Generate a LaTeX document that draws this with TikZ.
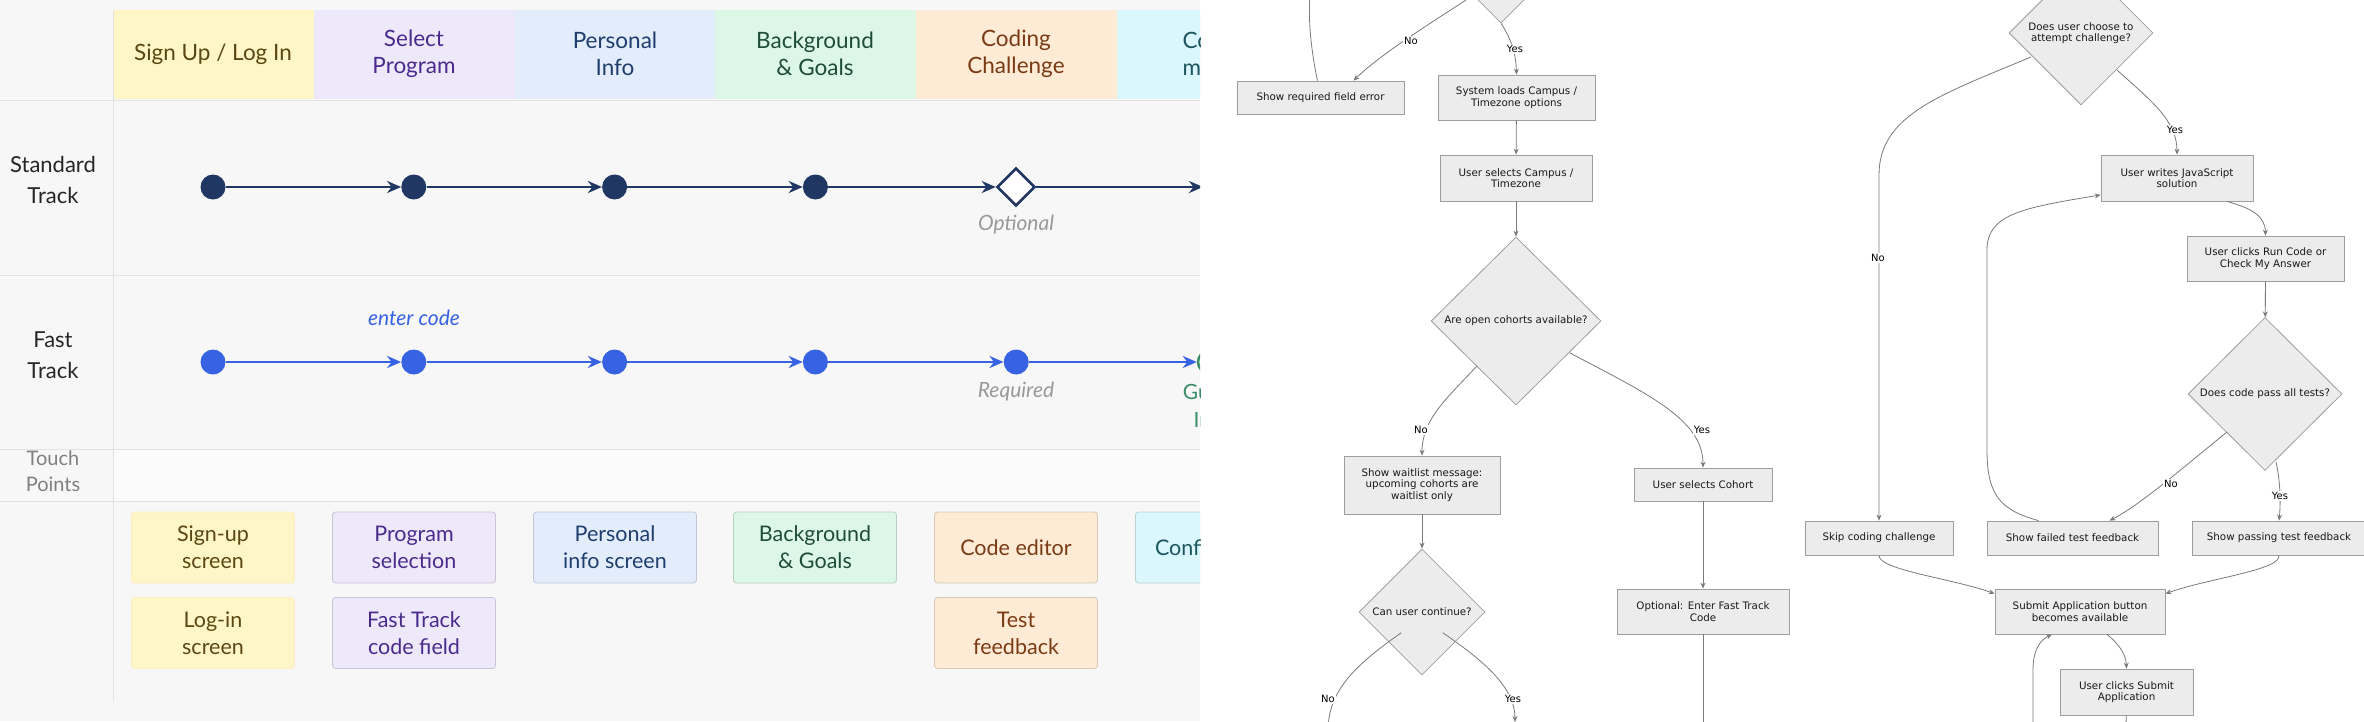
\documentclass[tikz,border=0pt]{standalone}
\usepackage{fontspec}
\setmainfont{Lato}
\newfontfamily\flowfont{DejaVu Sans}
\usetikzlibrary{arrows.meta, shapes.geometric}

\definecolor{panelbg}{HTML}{F7F7F7}
\definecolor{gridgray}{HTML}{E2E2E2}
\definecolor{navy}{HTML}{1F3762}
\definecolor{fastblue}{HTML}{3762E2}
\definecolor{guargreen}{HTML}{3A8F66}
\definecolor{hdyellow}{HTML}{FEF6C6}
\definecolor{hdlav}{HTML}{EEE8FB}
\definecolor{hdblue}{HTML}{E2ECFB}
\definecolor{hdgreen}{HTML}{DCF7E6}
\definecolor{hdorange}{HTML}{FDEBD6}
\definecolor{hdcyan}{HTML}{D9F7FC}
\definecolor{txyellow}{HTML}{5A4712}
\definecolor{txlav}{HTML}{4A2B8C}
\definecolor{txblue}{HTML}{1F3E6E}
\definecolor{txgreen}{HTML}{1F4D37}
\definecolor{txorange}{HTML}{7A3A14}
\definecolor{txcyan}{HTML}{1D5560}
\definecolor{flowfill}{HTML}{ECECEC}
\definecolor{flowline}{HTML}{9E9E9E}
\definecolor{edgegray}{HTML}{7A7A7A}

\tikzset{
    hdtext/.style={align=center, font=\fontsize{22.5}{27}\selectfont},
    rowlabel/.style={align=center, font=\fontsize{22}{31}\selectfont, text=black!85},
    sdot/.style={circle, fill=navy, inner sep=0pt, minimum size=25pt},
    fdot/.style={circle, fill=fastblue, inner sep=0pt, minimum size=25pt},
    trk/.style={line width=2.6pt, -{Stealth[length=14pt,width=12pt]}},
    note/.style={font=\fontsize{21}{28}\selectfont\itshape, align=center},
    touch/.style={rectangle, rounded corners=3pt, line width=0.8pt, minimum width=163pt,
        minimum height=71pt, align=center, font=\fontsize{21.5}{27}\selectfont},
    flowbox/.style={rectangle, fill=flowfill, draw=flowline, line width=0.8pt, align=center,
        inner sep=1pt, text=black!90, font=\flowfont\fontsize{10.3}{11.5}\selectfont},
    ask/.style={diamond, fill=flowfill, draw=flowline, line width=0.8pt, align=center,
        inner sep=0pt, text=black!90, font=\flowfont\fontsize{10.3}{11.5}\selectfont},
    flow/.style={draw=edgegray, line width=0.8pt, -{Stealth[length=6pt,width=5pt]}},
    lbl/.style={font=\flowfont\fontsize{10}{11}\selectfont, fill=white, inner sep=1pt}
}

\begin{document}
\begin{tikzpicture}[x=1pt, y=-1pt]
    \useasboundingbox (0,0) rectangle (2364,721);
    \fill[white] (0,0) rectangle (2364,721);
    \def \colw{200.8}
    %%%
    %%% Journey map
    %%%
    \begin{scope}
        \clip (0,0) rectangle (1200,721);
        \fill[panelbg] (0,0) rectangle (1200,721);
        % Header colours
        \foreach \i/\c in {0/hdyellow, 1/hdlav, 2/hdblue, 3/hdgreen, 4/hdorange, 5/hdcyan}
        {
            \fill[\c] (113+\colw*\i,10) rectangle (113+\colw*\i+\colw,99);
        }
        \fill[black!1.5] (113,449) rectangle (1200,501);
        % Grid lines
        \draw[gridgray, line width=1pt] (0,100) -- (1200,100);
        \draw[gridgray, line width=1pt] (0,275) -- (1200,275);
        \draw[gridgray, line width=1pt] (0,449) -- (1200,449);
        \draw[gridgray, line width=1pt] (0,501) -- (1200,501);
        \draw[gridgray, line width=1pt] (113,10) -- (113,701);
        % Header texts
        \node[hdtext, text=txyellow] (h1) at (213,54) {Sign Up / Log In};
        \node[hdtext, text=txlav]    (h2) at (414,54) {Select\\Program};
        \node[hdtext, text=txblue]   (h3) at (615,54) {Personal\\Info};
        \node[hdtext, text=txgreen]  (h4) at (815,54) {Background\\\& Goals};
        \node[hdtext, text=txorange] (h5) at (1016,54) {Coding\\Challenge};
        \node[hdtext, text=txcyan]   (h6) at (1217,54) {Confir-\\mation};
        % Row labels
        \node[rowlabel] (lstd)   at (53,180) {Standard\\Track};
        \node[rowlabel] (lfast)  at (53,355) {Fast\\Track};
        \node[rowlabel, text=black!50, font=\fontsize{20}{26}\selectfont] (ltouch) at (53,471) {Touch\\Points};
        % Standard track
        \foreach \i in {1,...,4}
        {
            \node[sdot] (s\i) at (213+\colw*\i-\colw,187) {};
        }
        \node[diamond, draw=navy, fill=white, line width=2.6pt, inner sep=0pt, minimum size=38pt] (s5) at (1016,187) {};
        \coordinate (s6) at (1203,187);
        \foreach \a/\b in {s1/s2, s2/s3, s3/s4, s4/s5, s5/s6}
        {
            \draw[trk, navy] (\a) -- (\b);
        }
        \node[note, text=black!40] (opt) at (1016,225) {Optional};
        % Fast track
        \foreach \i in {1,...,5}
        {
            \node[fdot] (f\i) at (213+\colw*\i-\colw,362) {};
        }
        \node[circle, draw=guargreen, fill=hdgreen, line width=2.5pt, minimum size=22pt, inner sep=0pt] (f6) at (1209,362) {};
        \foreach \a/\b in {f1/f2, f2/f3, f3/f4, f4/f5, f5/f6}
        {
            \draw[trk, fastblue] (\a) -- (\b);
        }
        \node[note, text=fastblue] (code) at (414,318) {enter code};
        \node[note, text=black!40] (req) at (1016,392) {Required};
        \node[note, text=guargreen, font=\fontsize{21}{28}\selectfont] (guar) at (1237,406) {Guaranteed\\Interview};
        % Touch points
        \node[touch, fill=hdyellow, draw=hdyellow!80!orange!60, text=txyellow] (t1) at (213,547.5) {Sign-up\\screen};
        \node[touch, fill=hdyellow, draw=hdyellow!80!orange!60, text=txyellow] (t2) at (213,633) {Log-in\\screen};
        \node[touch, fill=hdlav, draw=hdlav!85!black, text=txlav] (t3) at (414,547.5) {Program\\selection};
        \node[touch, fill=hdlav, draw=hdlav!85!black, text=txlav] (t4) at (414,633) {Fast Track\\code field};
        \node[touch, fill=hdblue, draw=hdblue!85!black, text=txblue] (t5) at (615,547.5) {Personal\\info screen};
        \node[touch, fill=hdgreen, draw=hdgreen!85!black, text=txgreen] (t6) at (815,547.5) {Background\\\& Goals};
        \node[touch, fill=hdorange, draw=hdorange!85!black, text=txorange] (t7) at (1016,547.5) {Code editor};
        \node[touch, fill=hdorange, draw=hdorange!85!black, text=txorange] (t8) at (1016,633) {Test\\feedback};
        \node[touch, fill=hdcyan, draw=hdcyan!85!black, text=txcyan] (t9) at (1217,547.5) {Confirmation};
    \end{scope}
    %%%
    %%% Flowchart
    %%%
    \begin{scope}
        \clip (1200,0) rectangle (2364,721);
        % Left column
        \node[ask, minimum width=102pt, minimum height=102pt] (topq) at (1501,-28) {};
        \node[flowbox, minimum width=167pt, minimum height=33pt] (err) at (1320.5,97.5) {Show required field error};
        \node[flowbox, minimum width=157pt, minimum height=45pt] (load) at (1516.5,97.5) {System loads Campus /\\Timezone options};
        \node[flowbox, minimum width=152pt, minimum height=46pt] (sel) at (1516,178) {User selects Campus /\\Timezone};
        \node[ask, minimum width=170pt, minimum height=168pt] (cohq) at (1516,321) {Are open cohorts available?};
        \node[flowbox, minimum width=156pt, minimum height=58pt] (wait) at (1422,485) {Show waitlist message:\\upcoming cohorts are\\waitlist only};
        \node[ask, minimum width=126pt, minimum height=126pt] (contq) at (1422,612) {Can user continue?};
        \node[flowbox, minimum width=138pt, minimum height=33pt] (cohort) at (1703,484.5) {User selects Cohort};
        \node[flowbox, minimum width=172pt, minimum height=45pt] (fast) at (1703,611.5) {Optional: Enter Fast Track\\Code};
        \coordinate (up)   at (1310,-5);
        \coordinate (cno)  at (1328,730);
        \coordinate (cyes) at (1515,722);
        \coordinate (fdown) at (1703,730);
        \draw[flow] (1466,0) .. controls (1420,30) and (1380,55) .. ([xshift=33pt]err.north);
        \node[lbl] (topno) at (1411,41) {No};
        \draw[edgegray, line width=0.8pt] ([xshift=-3pt]err.north) .. controls (1311,50) and (1308,20) .. (up);
        \draw[flow] (topq.south) .. controls (1512,40) and (1516,55) .. (load.north);
        \node[lbl] (topyes) at (1515,49) {Yes};
        \draw[flow] (load) -- (sel);
        \draw[flow] (sel) -- (cohq);
        \draw[flow] (1477,366) .. controls (1445,400) and (1422,420) .. (wait.north);
        \node[lbl] (cohno) at (1421,430) {No};
        \draw[flow] (1570,353) .. controls (1650,395) and (1703,420) .. (cohort.north);
        \node[lbl] (cohyes) at (1702,430) {Yes};
        \draw[flow] (wait) -- (contq);
        \draw[flow] (contq.south west) ++(11,-11) .. controls (1355,665) and (1330,690) .. (cno);
        \node[lbl] (contno) at (1328,699) {No};
        \draw[flow] (contq.south east) ++(-11,-11) .. controls (1490,665) and (1515,690) .. (cyes);
        \node[lbl] (contyes) at (1513,699) {Yes};
        \draw[flow] (cohort) -- (fast);
        \draw[flow] (fast) -- (fdown);
        % Right column
        \node[ask, minimum width=144pt, minimum height=144pt] (tryq) at (2081,33) {Does user choose to\\attempt challenge?};
        \node[flowbox, minimum width=152pt, minimum height=46pt] (js) at (2177,178) {User writes JavaScript\\solution};
        \node[flowbox, minimum width=157pt, minimum height=45pt] (run) at (2265.5,258.5) {User clicks Run Code or\\Check My Answer};
        \node[ask, minimum width=154pt, minimum height=153pt] (passq) at (2265,394) {Does code pass all tests?};
        \node[flowbox, minimum width=148pt, minimum height=34pt] (skip) at (1879,538) {Skip coding challenge};
        \node[flowbox, minimum width=171pt, minimum height=34pt] (fail) at (2072.5,538) {Show failed test feedback};
        \node[flowbox, minimum width=174pt, minimum height=34pt] (pass) at (2279,538) {Show passing test feedback};
        \node[flowbox, minimum width=170pt, minimum height=45pt] (submit) at (2080,611.5) {Submit Application button\\becomes available};
        \node[flowbox, minimum width=133pt, minimum height=46pt] (click) at (2126.5,692) {User clicks Submit\\Application};
        \coordinate (back) at (2033,730);
        \coordinate (cdown) at (2126,730);
        \draw[flow] (2031,57) .. controls (1940,95) and (1879,115) .. (1879,175) -- (skip.north);
        \node[lbl] (tryno) at (1878,258) {No};
        \draw[flow] (2117,70) .. controls (2150,100) and (2177,120) .. (js.north);
        \node[lbl] (tryyes) at (2175,130) {Yes};
        \draw[flow] ([xshift=50pt]js.south) .. controls (2250,208) and (2265,215) .. (run.north);
        \draw[flow] (run) -- (passq);
        \draw[flow] (2227,432) .. controls (2180,470) and (2140,505) .. ([xshift=37pt]fail.north);
        \node[lbl] (passno) at (2171,484) {No};
        \draw[flow] (2276,462) .. controls (2280,480) and (2281,500) .. (pass.north);
        \node[lbl] (passyes) at (2280,496) {Yes};
        \draw[flow] ([xshift=-34pt]fail.north) .. controls (2000,510) and (1987,495) .. (1987,450)
            -- (1987,250) .. controls (1987,215) and (2020,208) .. ([yshift=-17pt]js.west);
        \draw[flow] (skip.south) .. controls (1879,570) and (1950,578) .. ([yshift=-5pt]submit.north west);
        \draw[flow] (pass.south) .. controls (2281,570) and (2210,578) .. ([yshift=-5pt]submit.north east);
        \draw[flow] ([xshift=27pt]submit.south) .. controls (2120,645) and (2126,655) .. (click.north);
        \draw[flow] (back) -- (2033,670) .. controls (2033,650) and (2040,640) .. ([xshift=-28pt]submit.south);
        \draw[flow] (click) -- (cdown);
    \end{scope}
\end{tikzpicture}
\end{document}
